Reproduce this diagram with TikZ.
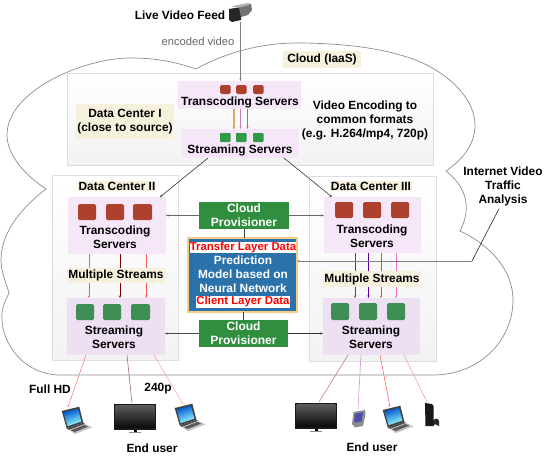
\documentclass[tikz,border=0pt]{standalone}
\usepackage{fontspec}
\setmainfont{Liberation Sans}
\usetikzlibrary{arrows.meta,backgrounds}
\definecolor{srvred}{HTML}{AE402E}
\definecolor{srvgreen}{HTML}{3E8E55}
\definecolor{srvgreenB}{HTML}{2E9A45}
\definecolor{panelpink}{HTML}{F5E6F8}
\definecolor{panelpinkB}{HTML}{ECE0F2}
\definecolor{labelbg}{HTML}{F6F1DC}
\definecolor{provgreen}{HTML}{2F8F3F}
\definecolor{modelblue}{HTML}{2C72AA}
\definecolor{modelgold}{HTML}{F5CE85}
\tikzset{
  lbl/.style={font=\bfseries\fontsize{11.9}{14}\selectfont,align=center,text=black,inner sep=0pt},
  pxbox/.style={inner sep=0pt,outer sep=0pt,align=center,font=\bfseries\fontsize{11.9}{14}\selectfont},
  center box/.style={pxbox,draw=black!13,line width=0.8pt,top color=white,bottom color=black!5},
  pink/.style={pxbox,fill=panelpink},
  pinkb/.style={pxbox,fill=panelpinkB},
  tag/.style={pxbox,fill=labelbg},
  prov/.style={pxbox,fill=provgreen,text=white,font=\bfseries\fontsize{12}{14}\selectfont},
  modelbox/.style={pxbox,fill=modelblue,draw=modelgold,line width=1.6pt},
  datatag/.style={pxbox,fill=white,text=red,font=\bfseries\fontsize{11.4}{13}\selectfont},
  redsq/.style={pxbox,fill=srvred,rounded corners=1.5pt},
  greensq/.style={pxbox,fill=srvgreen,rounded corners=1.5pt},
  greensm/.style={pxbox,fill=srvgreenB,rounded corners=0.8pt},
  link/.style={line width=0.6pt,-{Stealth[length=2.5pt,width=2pt]}},
  plain link/.style={line width=0.6pt},
  cloudline/.style={draw=black!45,line width=0.7pt},
  laptop/.pic={
    \fill[black!75] (0.7,4) -- (18.3,-0.3) -- (22.3,15.7) -- (5.7,21.3) -- cycle;
    \shade[left color=blue!60!cyan!80!black,right color=cyan!40,shading angle=20] (2.4,5.3) -- (17,1.8) -- (20.4,14.6) -- (6.6,19.2) -- cycle;
    \fill[black!70] (5.7,21.3) -- (22.3,15.7) -- (24,17) -- (8,23) -- cycle;
    \fill[black!25] (8,23) -- (24,17) -- (31.3,20.3) -- (14,27) -- cycle;
    \fill[black!65] (10,23.2) -- (23.5,18) -- (27,19.6) -- (13.5,25) -- cycle;
  },
  tvset/.pic={
    \fill[black!90] (0,0) rectangle (42,25.5);
    \shade[top color=black!65,bottom color=black!95] (1.7,1.7) rectangle (40.3,23);
    \fill[black!45] (15,27.5) rectangle (27,28.3);
    \fill[black] (19.5,25.5) rectangle (22.5,28);
  },
  handheld/.pic={
    \fill[black!45] (1.5,2) -- (13,0) -- (13.5,4) -- (11,16) -- (3,17.5) -- (0,14) -- cycle;
    \fill[blue!55!black!70] (3.3,3.6) -- (11,2.4) -- (9.5,11.5) -- (2,12.5) -- cycle;
  },
  consolebox/.pic={
    \fill[black!90] (0,0) -- (7,1) -- (8.5,3) -- (8.5,23) -- (0.5,23) -- cycle;
    \fill[black!85] (8,17) .. controls (10,15) and (13,15) .. (14,18) -- (14,23) -- (12,22) -- (10,21) -- (8,23) -- cycle;
  },
  videocam/.pic={
    \fill[black!85] (0,6) -- (12,4) -- (12,17) -- (3,19) -- (0,17) -- cycle;
    \fill[black!55] (10,4.5) -- (22,0.5) -- (23,7) -- (19,12) -- (12,14) -- cycle;
    \fill[black!30] (2,3.5) -- (13,1) -- (20,0) -- (20,2) -- (10,4.5) -- cycle;
  }
}
% name, style, x1, y1, x2, y2, text
\newcommand{\pxbox}[7]{%
  \pgfmathsetmacro{\bxc}{(#3+#5)/2}\pgfmathsetmacro{\byc}{(#4+#6)/2}%
  \pgfmathsetmacro{\bxw}{#5-#3}\pgfmathsetmacro{\byh}{#6-#4}%
  \node[#2,minimum width=\bxw pt,minimum height=\byh pt] (#1) at (\bxc,\byc) {#7};}
\begin{document}
\begin{tikzpicture}[x=1pt,y=-1pt]
\useasboundingbox (0,0) rectangle (550,463);
% cloud
\draw[cloudline] (196,69) .. controls (170,60) and (150,58) .. (130,58)
  .. controls (85,58) and (7,90) .. (7,135)
  .. controls (7,155) and (25,175) .. (46,189)
  .. controls (25,205) and (1,230) .. (1,260)
  .. controls (1,272) and (6,282) .. (9,293)
  .. controls (4,303) and (1,310) .. (2,320)
  .. controls (3,345) and (25,375) .. (60,375)
  -- (433,375)
  .. controls (480,375) and (513,340) .. (513,300)
  .. controls (513,270) and (490,245) .. (460,231)
  .. controls (470,212) and (470,190) .. (446,171)
  .. controls (462,160) and (475,145) .. (475,125)
  .. controls (475,95) and (440,65) .. (400,55)
  .. controls (370,46) and (330,43) .. (297,43)
  .. controls (260,43) and (225,53) .. (196,69);
% data centre panels
\pxbox{dcI}{center box}{67}{73}{433}{165}{}
\pxbox{dcII}{center box}{52}{175}{178}{360}{}
\pxbox{dcIII}{center box}{309}{176}{436}{361}{}
% cloud label
\pxbox{cloudlab}{tag}{283}{51}{361}{68}{Cloud (IaaS)}
% top texts
\node[lbl] (live) at (180,15) {Live Video Feed};
\pic at (229,3) {videocam};
\coordinate (cam) at (240.5,22);
\node[inner sep=0pt,text=black!60,font=\fontsize{11.2}{13}\selectfont] (enc) at (198,41) {encoded video};
% data center I
\pxbox{labI}{tag}{76}{104}{174}{139}{Data Center I\\(close to source)}
\pxbox{tI}{pink}{178}{81}{301}{109}{}
\pxbox{sI}{pink}{181}{129}{299}{158}{}
\node[lbl] (tItxt) at (240,102) {Transcoding Servers};
\node[lbl] (sItxt) at (240,150) {Streaming Servers};
\foreach \n/\x in {a/220,b/236,c/253}{
  \pxbox{rI\n}{redsq}{\x}{85}{\x+10.5}{94}{}
  \pxbox{gI\n}{greensm}{\x}{133}{\x+10.5}{142}{}
}
\node[lbl] (enctxt) at (365,120) {Video Encoding to\\common formats\\(e.g. H.264/mp4, 720p)};
\draw[link,black!50] (cam) -- (tI.north -| cam);
\draw[link,draw=brown!60!orange!70,line width=1.5pt,-{Stealth[length=2pt,width=3pt]}] ([xshift=-5.5pt]tI.south) -- ([xshift=-5.5pt,yshift=0pt]tI.south |- sI.north);
\draw[link,draw=violet!50] ([xshift=1pt]tI.south) -- ([xshift=1pt]tI.south |- sI.north);
\draw[link,draw=red!70] ([xshift=8pt]tI.south) -- ([xshift=8pt]tI.south |- sI.north);
% data center II
\node[lbl,fill=labelbg,inner xsep=1pt,inner ysep=1pt] (labII) at (117,186) {Data Center II};
\pxbox{tII}{pink}{68}{197}{166}{254}{}
\pxbox{sII}{pinkb}{67}{298}{165}{355}{}
\node[lbl] (tIItxt) at (115,237) {Transcoding\\Servers};
\node[lbl] (sIItxt) at (114,337) {Streaming\\Servers};
\foreach \n/\x/\y in {a/78/96,b/106/124,c/133/152}{
  \pxbox{rII\n}{redsq}{\x}{204}{\y}{220}{}
}
\foreach \n/\x/\y in {a/76/94,b/103/121,c/131/150}{
  \pxbox{gII\n}{greensq}{\x}{304}{\y}{320}{}
}
\draw[link,red!65] ([xshift=-28pt]tII.south) -- ([xshift=-28pt]tII.south |- sII.north);
\draw[link,red!50!black] ([xshift=3pt]tII.south) -- ([xshift=3pt]tII.south |- sII.north);
\draw[link,red!65] ([xshift=29.5pt]tII.south) -- ([xshift=29.5pt]tII.south |- sII.north);
\pxbox{msII}{tag}{67}{268}{165}{283}{Multiple Streams}
% data center III
\node[lbl,fill=labelbg,inner xsep=1pt,inner ysep=1pt] (labIII) at (371,186) {Data Center III};
\pxbox{tIII}{pink}{324}{197}{421}{253}{}
\pxbox{sIII}{pinkb}{323}{298}{420}{355}{}
\node[lbl] (tIIItxt) at (372,236) {Transcoding\\Servers};
\node[lbl] (sIIItxt) at (371,337) {Streaming\\Servers};
\foreach \n/\x/\y in {a/335/353,b/363/381,c/391/409}{
  \pxbox{rIII\n}{redsq}{\x}{202}{\y}{218}{}
}
\foreach \n/\x/\y in {a/331/349,b/359/377,c/387/405}{
  \pxbox{gIII\n}{greensq}{\x}{303}{\y}{320}{}
}
\draw[link,red!45!black!80] ([xshift=-17.5pt]tIII.south) -- ([xshift=-17.5pt]tIII.south |- sIII.north);
\draw[link,violet!70!blue] ([xshift=-4pt]tIII.south) -- ([xshift=-4pt]tIII.south |- sIII.north);
\draw[link,red!75] ([xshift=8.5pt]tIII.south) -- ([xshift=8.5pt]tIII.south |- sIII.north);
\draw[link,magenta!55] ([xshift=23.5pt]tIII.south) -- ([xshift=23.5pt]tIII.south |- sIII.north);
\pxbox{msIII}{tag}{323}{271}{421}{287}{Multiple Streams}
% links from the first data centre
\draw[link,black!80] ([xshift=-32pt]sI.south) -- (tII.north -| 160,0);
\draw[link,black!80] ([xshift=44pt]sI.south) -- (tIII.north -| 332,0);
% centre column
\pxbox{cpA}{prov}{199}{202}{289}{229}{Cloud\\Provisioner}
\pxbox{model}{modelbox}{188}{238}{297}{312}{}
\pxbox{trans}{datatag}{193}{242}{293}{253}{Transfer Layer Data}
\pxbox{client}{datatag}{196}{296}{290}{308}{Client Layer Data}
\node[lbl,text=white] (modeltxt) at (243,274) {Prediction\\Model based on\\Neural Network};
\pxbox{cpB}{prov}{199}{320}{288}{347}{Cloud\\Provisioner}
\draw[plain link,black!75] (cpA.south) -- (cpA.south |- model.north);
\draw[plain link,black!75] (model.south -| cpB.north) -- (cpB.north);
\draw[link,black!60] (cpA.west) -- (cpA.west -| tII.east);
\draw[link,black!60] (cpA.east) -- (cpA.east -| tIII.west);
\draw[link,black!70] (cpB.west) -- (cpB.west -| sII.east);
\draw[link,black!80] (cpB.east) -- (cpB.east -| sIII.west);
% internet analysis
\node[lbl] (inet) at (503,186) {Internet Video\\Traffic\\Analysis};
\coordinate (knee) at (472,261);
\draw[plain link,black!85] (inet.south) ++(-4,3) coordinate (inetfoot) -- (knee);
\draw[link,black!50] (knee) -- (knee -| model.east);
% devices
\pic at (61,407) {laptop};
\pic at (114,404) {tvset};
\pic at (174,404) {laptop};
\pic at (295,403) {tvset};
\pic at (352,410) {handheld};
\pic at (382,406) {laptop};
\pic at (425,403) {consolebox};
\coordinate (d1) at (68,407);
\coordinate (d2) at (132,403);
\coordinate (d3) at (183,404);
\coordinate (d4) at (319,402);
\coordinate (d5) at (358,409);
\coordinate (d6) at (390,407);
\coordinate (d7) at (427,402);
\draw[link,red!50] ([xshift=-30pt]sII.south) -- (d1);
\draw[plain link,red!50!black!60] ([xshift=11pt]sII.south) -- (d2);
\draw[plain link,red!35] ([xshift=38pt]sII.south) -- (d3);
\draw[plain link,red!50!black!50] ([xshift=-23.5pt]sIII.south) -- (d4);
\draw[plain link,violet!40] ([xshift=-10.5pt]sIII.south) -- (d5);
\draw[link,red!60] ([xshift=8.5pt]sIII.south) -- (d6);
\draw[plain link,magenta!40] ([xshift=32.5pt]sIII.south) -- (d7);
\node[lbl] (fullhd) at (50,389) {Full HD};
\node[lbl] (q240) at (158,389) {240p};
\node[lbl] (euA) at (152,448) {End user};
\node[lbl] (euB) at (372,447) {End user};
\end{tikzpicture}
\end{document}
